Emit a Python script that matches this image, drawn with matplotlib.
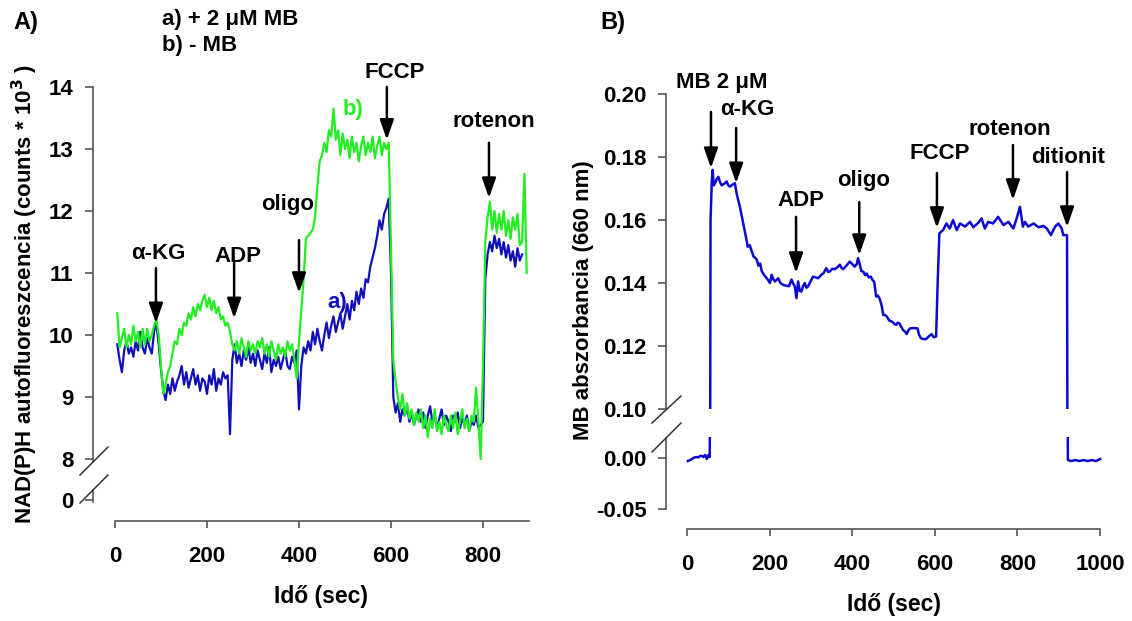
import numpy as np
import matplotlib
matplotlib.use('Agg')
import matplotlib.pyplot as plt
from matplotlib.lines import Line2D

plt.rcParams['font.family'] = ['Liberation Sans', 'DejaVu Sans']
plt.rcParams['font.weight'] = 'bold'
plt.rcParams['font.size'] = 16

# ---- panel A: NAD(P)H autofluorescence (counts * 10^3) ----
t_mb = np.arange(5, 890, 5)
nadh_mb = [
    9.85, 9.6, 9.4, 9.75, 9.9, 9.7, 9.8, 9.65, 9.9, 9.75, 10.05, 9.8,
    9.7, 9.95, 9.8, 9.7, 10.05, 10.2, 9.85, 9.45, 9.1, 8.95, 9.2, 9.05,
    9.3, 9.1, 9.25, 9.35, 9.5, 9.2, 9.4, 9.15, 9.3, 9.45, 9.2, 9.35,
    9.1, 9.3, 9.25, 9.05, 9.35, 9.2, 9.45, 9.1, 9.3, 9.2, 9.4, 9.3,
    9.35, 8.4, 9.6, 9.85, 9.55, 9.7, 9.5, 9.75, 9.6, 9.8, 9.55, 9.7,
    9.5, 9.75, 9.6, 9.45, 9.7, 9.55, 9.8, 9.4, 9.6, 9.5, 9.65, 9.45,
    9.6, 9.75, 9.5, 9.45, 9.65, 9.55, 9.75, 8.8, 9.5, 9.8, 9.7, 9.9,
    9.75, 10.05, 9.85, 10.1, 9.9, 9.75, 10.0, 10.2, 9.95, 10.15, 10.3, 10.05,
    10.2, 10.35, 10.1, 10.3, 10.5, 10.25, 10.55, 10.4, 10.7, 10.5, 10.75, 10.6,
    10.9, 10.85, 11.1, 11.25, 11.4, 11.6, 11.85, 11.7, 11.95, 12.05, 12.2, 11.0,
    9.0, 8.75, 8.9, 8.6, 8.8, 8.7, 8.85, 8.6, 8.75, 8.55, 8.7, 8.8,
    8.6, 8.75, 8.5, 8.7, 8.85, 8.6, 8.7, 8.5, 8.65, 8.8, 8.55, 8.7,
    8.6, 8.45, 8.7, 8.6, 8.75, 8.5, 8.65, 8.55, 8.7, 8.45, 8.6, 8.55,
    8.7, 8.5, 8.55, 8.6, 10.9, 11.3, 11.5, 11.35, 11.6, 11.4, 11.55, 11.3,
    11.5, 11.25, 11.45, 11.2, 11.35, 11.1, 11.4, 11.2, 11.3,
]
t_nomb = np.arange(5, 900, 5)
nadh_nomb = [
    10.35, 9.8, 9.95, 10.1, 9.8, 10.0, 9.85, 10.15, 9.9, 10.05, 9.8, 10.1,
    9.85, 10.1, 9.9, 10.0, 10.15, 10.25, 10.0, 9.5, 9.05, 9.2, 9.4, 9.5,
    9.7, 9.9, 9.85, 10.1, 10.0, 10.2, 10.15, 10.35, 10.25, 10.45, 10.3, 10.5,
    10.4, 10.55, 10.65, 10.45, 10.6, 10.4, 10.55, 10.35, 10.45, 10.25, 10.3, 10.15,
    10.2, 10.05, 9.85, 9.75, 9.9, 9.7, 9.95, 9.8, 9.65, 9.9, 9.75, 9.85,
    9.7, 9.9, 9.8, 9.95, 9.7, 9.85, 9.65, 9.9, 9.75, 9.6, 9.85, 9.7,
    9.8, 9.65, 9.9, 9.75, 9.85, 9.6, 9.3, 9.9, 10.4, 10.9, 11.55, 11.6,
    11.65, 11.7, 11.9, 12.4, 12.8, 12.9, 13.1, 12.95, 13.3, 13.2, 13.65, 13.15,
    13.3, 12.9, 13.25, 13.0, 13.15, 12.85, 13.2, 12.95, 13.1, 12.8, 13.05, 13.2,
    12.9, 13.1, 12.95, 13.2, 12.85, 13.05, 13.2, 12.9, 13.1, 13.0, 13.1, 11.4,
    9.6, 9.25, 9.0, 8.8, 9.05, 8.7, 8.9, 8.65, 8.8, 8.55, 8.75, 8.6,
    8.8, 8.5, 8.7, 8.35, 8.65, 8.5, 8.8, 8.45, 8.6, 8.4, 8.7, 8.55,
    8.45, 8.7, 8.5, 8.75, 8.4, 8.6, 8.8, 8.5, 8.65, 8.45, 8.7, 8.6,
    9.15, 8.6, 8.0, 9.5, 11.5, 11.9, 12.15, 11.7, 12.0, 11.65, 11.95, 11.7,
    12.0, 11.6, 11.85, 11.55, 11.9, 11.7, 11.95, 11.45, 11.5, 12.6, 11.0,
]

a_labels = ['α-KG', 'ADP', 'oligo', 'FCCP', 'rotenon']
a_arrow_x = [89, 259, 400, 591, 813]
a_arrow_from = [11.08, 11.16, 11.53, 14.0, 13.1]
a_arrow_to = [10.19, 10.27, 10.68, 13.15, 12.21]
a_text_x = [94, 267, 376, 609, 824]
a_text_y = [11.32, 11.26, 12.1, 14.24, 13.44]

# ---- panel B: MB absorbance at 660 nm ----
t_abs = [
    2, 8, 15, 22, 27, 32, 36, 40, 44, 48, 52, 55,
    57, 60, 62, 65, 68, 72, 76, 80, 84, 90, 96, 100, 104, 110, 116,
    120, 128, 136, 145, 147, 152, 161, 165, 169, 173, 177, 181, 187, 193, 197,
    201, 205, 209, 213, 217, 221, 225, 229, 235, 241, 247, 253, 257, 261, 265,
    269, 273, 277, 281, 285, 289, 293, 299, 305, 311, 317, 321, 325, 331, 337,
    342, 346, 352, 358, 364, 370, 374, 378, 386, 394, 400, 406, 411, 414, 418,
    422, 427, 431, 435, 440, 445, 449, 453, 458, 462, 466, 471, 475, 480, 484,
    490, 497, 502, 506, 510, 514, 519, 523, 528, 532, 536, 540, 550, 558, 562,
    566, 572, 579, 585, 592, 597, 603, 607, 611, 620, 628, 636, 644, 653, 661,
    673, 685, 693, 705, 713, 721, 729, 741, 753, 766, 778, 790, 798, 806, 813,
    818, 826, 839, 851, 863, 871, 881, 891, 899, 907, 911, 920, 922, 930, 940,
    950, 960, 970, 980, 990, 1000,
]
abs_660 = [
    -0.003, -0.002, 0.000, 0.001, 0.0005, 0.002, 0.002, 0.001, 0.003, -0.001, 0.003, 0.001,
    0.160, 0.172, 0.1759, 0.171, 0.1717, 0.173, 0.1737, 0.172, 0.171, 0.1715, 0.1722, 0.171, 0.1706, 0.1712, 0.1717,
    0.1685, 0.1642, 0.159, 0.1531, 0.1515, 0.152, 0.1484, 0.148, 0.1474, 0.1455, 0.1462, 0.1437, 0.1425, 0.1415, 0.1408,
    0.14, 0.1426, 0.1412, 0.1405, 0.141, 0.1415, 0.1403, 0.1397, 0.1393, 0.1391, 0.139, 0.1411, 0.1398, 0.1389, 0.1352,
    0.1405, 0.1375, 0.1373, 0.139, 0.14, 0.1385, 0.1389, 0.1405, 0.142, 0.1418, 0.1415, 0.142, 0.1426, 0.1432, 0.1447,
    0.1435, 0.1437, 0.1445, 0.1444, 0.145, 0.1458, 0.1448, 0.1444, 0.1455, 0.1468, 0.146, 0.1452, 0.146, 0.1479, 0.146,
    0.1438, 0.1436, 0.1425, 0.143, 0.1418, 0.142, 0.141, 0.1404, 0.1357, 0.136, 0.1351, 0.133, 0.1299, 0.1298, 0.1293,
    0.128, 0.1277, 0.127, 0.1267, 0.1274, 0.1272, 0.126, 0.1251, 0.1245, 0.1238, 0.125, 0.1256, 0.1257, 0.1256, 0.1235,
    0.1225, 0.1222, 0.1222, 0.123, 0.1238, 0.1228, 0.123, 0.141, 0.1558, 0.1568, 0.1589, 0.1573, 0.16, 0.1568, 0.1589,
    0.1579, 0.1594, 0.1577, 0.1591, 0.1605, 0.1573, 0.1594, 0.1589, 0.161, 0.1584, 0.1594, 0.1573, 0.1605, 0.1642, 0.1579,
    0.1594, 0.1579, 0.1589, 0.1577, 0.1581, 0.1573, 0.1552, 0.1579, 0.1589, 0.1573, 0.1552, 0.1552, -0.002, -0.003, -0.002,
    -0.003, -0.002, -0.003, -0.002, -0.003, -0.001,
]

b_labels = ['MB 2 μM', 'α-KG', 'ADP', 'oligo', 'FCCP', 'rotenon', 'ditionit']
b_arrow_x = [58, 119, 264, 417, 605, 789, 920]
b_arrow_from = [0.1943, 0.1892, 0.161, 0.1657, 0.1749, 0.1838, 0.1752]
b_arrow_to = [0.1765, 0.1717, 0.1432, 0.1489, 0.1575, 0.1664, 0.1578]
b_text_x = [85, 146, 277, 427, 613, 782, 923]
b_text_y = [0.2035, 0.1952, 0.1663, 0.1724, 0.181, 0.1886, 0.1797]

W, H = 1132, 621
AX_COL = '#555555'
fig = plt.figure(figsize=(W / 100, H / 100), dpi=100)


def box(left, top, right, bottom):
    # pixel box -> figure fraction rect
    return [left / W, 1 - bottom / H, (right - left) / W, (bottom - top) / H]


def style(ax, ybounds, xbounds=None):
    for s in ['top', 'right']:
        ax.spines[s].set_visible(False)
    ax.spines['left'].set_bounds(*ybounds)
    ax.spines['left'].set_color(AX_COL)
    ax.spines['left'].set_linewidth(1.2)
    ax.tick_params(axis='y', direction='out', length=6, width=1.2,
                   color=AX_COL, pad=8, labelsize=16)
    ax.patch.set_visible(False)
    if xbounds is None:
        ax.spines['bottom'].set_visible(False)
        ax.tick_params(axis='x', bottom=False, labelbottom=False)
    else:
        ax.spines['bottom'].set_bounds(*xbounds)
        ax.spines['bottom'].set_color(AX_COL)
        ax.spines['bottom'].set_linewidth(1.2)
        ax.tick_params(axis='x', direction='out', length=5, width=1.2,
                       color=AX_COL, pad=13, labelsize=16)


def arrow(ax, x, y0, y1):
    ax.annotate('', xy=(x, y1), xytext=(x, y0),
                arrowprops=dict(arrowstyle='-|>,head_length=0.8,head_width=0.28',
                                color='black', lw=1.8, mutation_scale=15,
                                shrinkA=0, shrinkB=0))


def brk(x1, y1, x2, y2):
    fig.add_artist(Line2D([x1 / W, x2 / W], [1 - y1 / H, 1 - y2 / H],
                          transform=fig.transFigure, color='#333333', lw=1.1))


# panel A
axA = fig.add_axes(box(93, 87, 529, 465.2))
axA2 = fig.add_axes(box(93, 485, 529, 521))
for ax in (axA, axA2):
    ax.plot(t_mb, nadh_mb, color='#1010b8', lw=1.6)
    ax.plot(t_nomb, nadh_nomb, color='#22ee22', lw=1.6)
    ax.set_xlim(-47.8, 900)
axA.set_ylim(7.9, 14)
axA.set_yticks([8, 9, 10, 11, 12, 13, 14])
style(axA, (7.95, 14))
axA2.set_ylim(-1.05, 0.75)
axA2.set_yticks([0])
axA2.set_xticks([0, 200, 400, 600, 800])
style(axA2, (-0.1, 0.5), (0, 900))

for lab, ax_, y0, y1, tx, ty in zip(a_labels, a_arrow_x, a_arrow_from, a_arrow_to,
                                     a_text_x, a_text_y):
    arrow(axA, ax_, y0, y1)
    axA.text(tx, ty, lab, ha='center', va='center', fontsize=16)
axA.text(517, 13.63, 'b)', color='#22ee22', ha='center', va='center', fontsize=16)
axA.text(483, 10.53, 'a)', color='#1010b8', ha='center', va='center', fontsize=16)

# panel B
axB = fig.add_axes(box(666, 94, 1103, 409))
axB2 = fig.add_axes(box(666, 437, 1103, 529))
for ax in (axB, axB2):
    ax.plot(t_abs, abs_660, color='#0a0ad2', lw=1.8)
    ax.set_xlim(-50.8, 1007)
axB.set_ylim(0.10, 0.20)
axB.set_yticks([0.10, 0.12, 0.14, 0.16, 0.18, 0.20])
axB.set_yticklabels(['0.10', '0.12', '0.14', '0.16', '0.18', '0.20'])
style(axB, (0.10, 0.20))
axB2.set_ylim(-0.0696, 0.0206)
axB2.set_yticks([0.0, -0.05])
axB2.set_yticklabels(['0.00', '-0.05'])
axB2.set_xticks([0, 200, 400, 600, 800, 1000])
style(axB2, (-0.05, 0.02), (0, 1000))

for lab, ax_, y0, y1, tx, ty in zip(b_labels, b_arrow_x, b_arrow_from, b_arrow_to,
                                     b_text_x, b_text_y):
    arrow(axB, ax_, y0, y1)
    axB.text(tx, ty, lab, ha='center', va='center', fontsize=16)

# axis break marks
brk(80, 475, 108, 447)
brk(80, 503, 108, 475)
brk(652, 423, 681, 396)
brk(652, 452, 681, 423)

# labels and titles
fig.text(13 / W, 1 - 22 / H, 'A)', fontsize=17, va='center', ha='left')
fig.text(600 / W, 1 - 22 / H, 'B)', fontsize=17, va='center', ha='left')
fig.text(162 / W, 1 - 19 / H, 'a) + 2 μM MB', fontsize=16, va='center', ha='left')
fig.text(162 / W, 1 - 45 / H, 'b) - MB', fontsize=16, va='center', ha='left')
fig.text(25 / W, 1 - 294 / H, 'NAD(P)H autofluoreszcencia (counts * 10$^{\\mathbf{3}}$ )',
         rotation=90, fontsize=16, va='center', ha='center')
fig.text(584 / W, 1 - 300 / H, 'MB abszorbancia (660 nm)',
         rotation=90, fontsize=16, va='center', ha='center')
fig.text(321 / W, 1 - 597 / H, 'Idő (sec)', fontsize=16.5, va='center', ha='center')
fig.text(894 / W, 1 - 605 / H, 'Idő (sec)', fontsize=16.5, va='center', ha='center')

fig.savefig('out.png', dpi=100)
